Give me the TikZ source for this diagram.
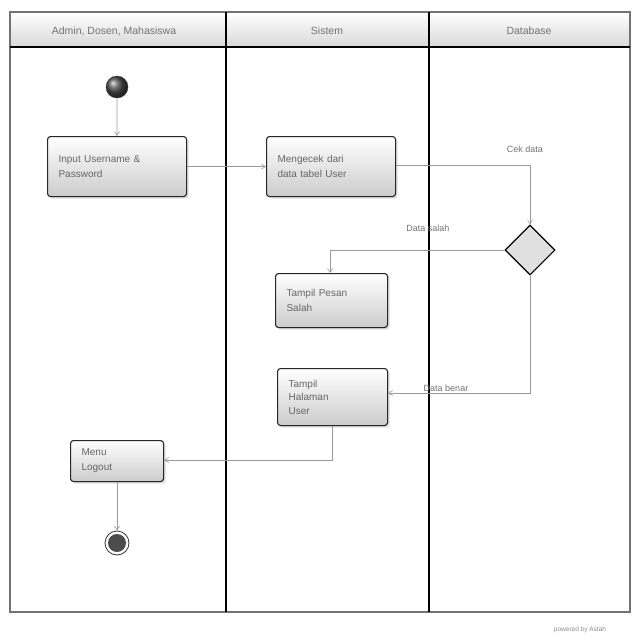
\documentclass[tikz,border=0pt]{standalone}
\usepackage{fontspec}
\setmainfont{Liberation Sans}
\usetikzlibrary{shapes.geometric,arrows.meta,shadows,calc}
\begin{document}
\begin{tikzpicture}[x=1pt,y=-1pt,
  act/.style={draw=black!85,line width=1.1pt,rounded corners=3pt,top color=white,bottom color=black!20,
    drop shadow={shadow xshift=2pt,shadow yshift=-2pt,fill=black!25},
    align=left,inner xsep=11pt,inner ysep=6pt,font=\fontsize{10}{15}\selectfont\color{black!60},anchor=north west},
  flow/.style={draw=black!40,line width=0.6pt,-{Straight Barb[length=4pt,width=5pt]}},
  lbl/.style={font=\fontsize{9}{11}\selectfont\color{black!55}},
  hdr/.style={font=\fontsize{10.5}{12}\selectfont\color{black!55}},
  lane/.style={draw=black,line width=1.6pt}]
\useasboundingbox (0,0) rectangle (640,640);
\fill[white] (0,0) rectangle (640,640);
% headers
\shade[top color=white,bottom color=black!15] (10,12) rectangle (226,47);
\shade[top color=white,bottom color=black!15] (226,12) rectangle (429,47);
\shade[top color=white,bottom color=black!15] (429,12) rectangle (630,47);
\node[hdr] (h1) at (114,31) {Admin, Dosen, Mahasiswa};
\node[hdr] (h2) at (327,31) {Sistem};
\node[hdr] (h3) at (529,31) {Database};
% frame
\draw[draw=black!55,line width=1.6pt] (10,12) rectangle (630,612);
\draw[lane] (10,47) -- (630,47);
\draw[lane] (226,12) -- (226,612);
\draw[lane] (429,12) -- (429,612);
% nodes
\node[circle,minimum size=22pt,inner sep=0pt,draw=black!80,ball color=black!70] (start) at (117,87) {};
\node[act,minimum width=139pt,minimum height=60pt,text width=117pt] (input) at (47,136) {Input Username \&\\Password};
\node[act,minimum width=129pt,minimum height=60pt,text width=107pt] (cek) at (266,136) {Mengecek dari\\data tabel User};
\node[diamond,draw=black,line width=1.1pt,fill=black!12,minimum width=50pt,minimum height=50pt,inner sep=0pt] (dec) at (530,250) {};
\node[act,minimum width=112pt,minimum height=54pt,text width=90pt] (salah) at (275,273) {Tampil Pesan\\Salah};
\node[act,minimum width=110pt,minimum height=57pt,text width=88pt,inner ysep=3pt,font=\fontsize{10}{13.5}\selectfont\color{black!60}] (hal) at (277,368) {Tampil\\Halaman\\User};
\node[act,minimum width=93pt,minimum height=41pt,text width=71pt,inner ysep=3pt] (logout) at (70,440) {Menu\\Logout};
\node[circle,minimum size=24pt,inner sep=0pt,draw=black!80,line width=0.8pt,fill=white] (end) at (117,543) {};
\node[circle,minimum size=18pt,inner sep=0pt,fill=black!70] (endin) at (117,543) {};
% flows
\draw[flow] (start) -- (input);
\draw[flow] (input.east) -- (input.east -| cek.west);
\coordinate (c1) at (530,165);
\draw[flow] (cek.east |- c1) -- (c1) -- (dec.north);
\node[lbl] (l1) at (525,149) {Cek data};
\coordinate (c2) at (330,250);
\draw[flow] (dec.west) -- (c2) -- (c2 |- salah.north);
\node[lbl] (l2) at (428,228) {Data salah};
\coordinate (c3) at (530,393);
\draw[flow] (dec.south) -- (c3) -- (c3 -| hal.east);
\node[lbl] (l3) at (446,388) {Data benar};
\coordinate (c4) at (332,460);
\draw[flow] (c4 |- hal.south) -- (c4) -- (c4 -| logout.east);
\draw[flow] (logout.south -| end) -- (end);
\node[font=\fontsize{6.5}{8}\selectfont\color{black!45}] (pw) at (580,630) {powered by Astah};
\end{tikzpicture}
\end{document}
